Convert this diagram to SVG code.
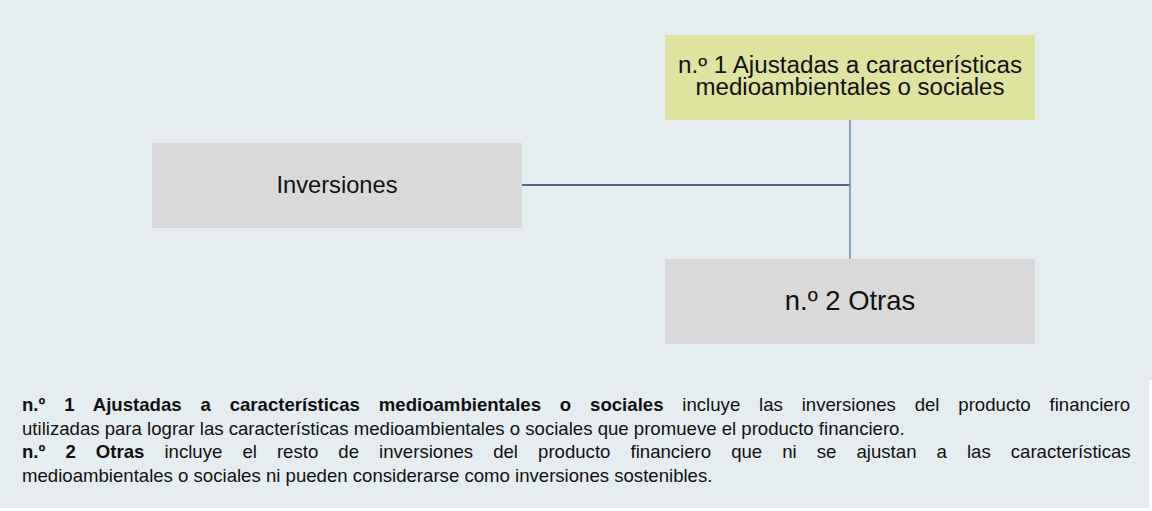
<svg xmlns="http://www.w3.org/2000/svg" width="1152" height="511" viewBox="0 0 1152 511">
  <style>
    .box-gray { fill: #D9D9D9; }
    .box-green { fill: #DEE39F; }
    .lbl { font-family: "Liberation Sans", Arial, sans-serif; fill: #111111; text-anchor: middle; }
    .para { font-family: "Liberation Sans", Arial, sans-serif; fill: #111111; font-size: 18.6px; }
    .b { font-weight: bold; }
    .conn-h { stroke: #1F3A5F; stroke-width: 1.5; fill: none; }
    .conn-v { stroke: #6C86AA; stroke-width: 1.5; fill: none; }
  </style>
  <rect x="0" y="0" width="1152" height="511" fill="#E5EDF0"/>
  <rect x="0" y="508" width="1149" height="3" fill="#FFFFFF"/>
  <rect x="1149" y="380" width="3" height="131" fill="#FFFFFF"/>

  <g id="connectors">
    <line class="conn-h" x1="522" y1="185" x2="850" y2="185"/>
    <line class="conn-v" x1="850" y1="120" x2="850" y2="259"/>
  </g>

  <g id="node-inversiones">
    <rect class="box-gray" x="152" y="143" width="370" height="85"/>
    <text class="lbl" x="337" y="193" font-size="23.7">Inversiones</text>
  </g>

  <g id="node-ajustadas">
    <rect class="box-green" x="665" y="35" width="370" height="85"/>
    <text class="lbl" x="850" y="73" font-size="23" textLength="344" lengthAdjust="spacingAndGlyphs">n.º 1 Ajustadas a características</text>
    <text class="lbl" x="850" y="95" font-size="23" textLength="309" lengthAdjust="spacingAndGlyphs">medioambientales o sociales</text>
  </g>

  <g id="node-otras">
    <rect class="box-gray" x="665" y="259" width="370" height="85"/>
    <text class="lbl" x="850" y="310" font-size="27.4">n.º 2 Otras</text>
  </g>

  <g id="legend">
    <text class="para" x="22" y="411" word-spacing="13.7"><tspan class="b">n.º 1 Ajustadas a características medioambientales o sociales</tspan> incluye las inversiones del producto financiero</text>
    <text class="para" x="22" y="434.5">utilizadas para lograr las características medioambientales o sociales que promueve el producto financiero.</text>
    <text class="para" x="22" y="458" word-spacing="14.9"><tspan class="b">n.º 2 Otras</tspan> incluye el resto de inversiones del producto financiero que ni se ajustan a las características</text>
    <text class="para" x="22" y="481.5">medioambientales o sociales ni pueden considerarse como inversiones sostenibles.</text>
  </g>
</svg>
